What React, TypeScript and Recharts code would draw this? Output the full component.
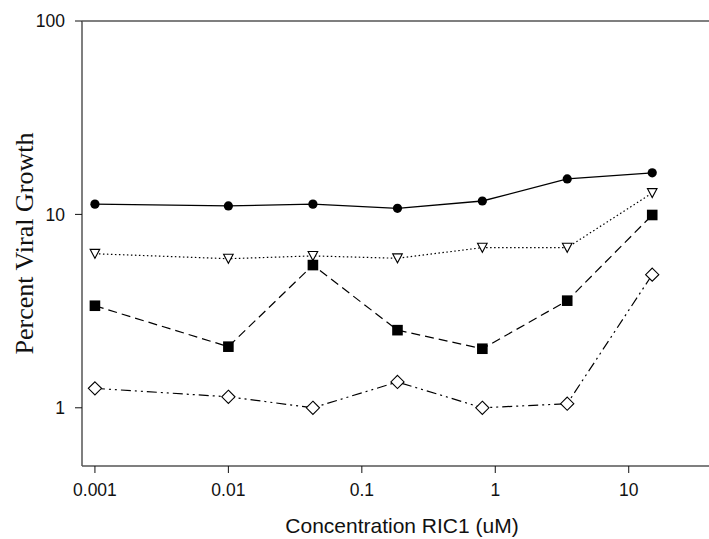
import React from 'react';
import { LineChart, Line, XAxis, YAxis, ReferenceLine } from 'recharts';

// concentration (uM) of each dilution step
const concentrations = [0.001, 0.01, 0.043, 0.185, 0.8, 3.46, 15];

// percent viral growth, one array per curve
const circleSeries = [11.3, 11.06, 11.3, 10.75, 11.73, 15.25, 16.4];
const triangleSeries = [6.26, 5.9, 6.1, 5.93, 6.73, 6.73, 12.9];
const squareSeries = [3.37, 2.07, 5.47, 2.52, 2.02, 3.58, 9.93];
const diamondSeries = [1.26, 1.14, 1.0, 1.36, 1.0, 1.05, 4.88];

const xTicks = [0.001, 0.01, 0.1, 1, 10];
const yTicks = [1, 10, 100];

const data = concentrations.map((conc, i) => ({
  conc,
  circle: circleSeries[i],
  triangle: triangleSeries[i],
  square: squareSeries[i],
  diamond: diamondSeries[i],
}));

type DotProps = { cx?: number; cy?: number; index?: number };

const renderCircle = ({ cx = 0, cy = 0, index }: DotProps) => (
  <circle key={`c-${index}`} cx={cx} cy={cy} r={4.6} fill="#000" />
);

const renderTriangle = ({ cx = 0, cy = 0, index }: DotProps) => (
  <path
    key={`t-${index}`}
    d={`M${cx - 4.8},${cy - 4.4} L${cx + 4.8},${cy - 4.4} L${cx},${cy + 4.6} Z`}
    fill="#fff"
    stroke="#000"
    strokeWidth={1.1}
  />
);

const renderSquare = ({ cx = 0, cy = 0, index }: DotProps) => (
  <rect key={`s-${index}`} x={cx - 5.3} y={cy - 5.3} width={10.6} height={10.6} fill="#000" />
);

const renderDiamond = ({ cx = 0, cy = 0, index }: DotProps) => (
  <path
    key={`d-${index}`}
    d={`M${cx},${cy - 6.6} L${cx + 6.6},${cy} L${cx},${cy + 6.6} L${cx - 6.6},${cy} Z`}
    fill="#fff"
    stroke="#000"
    strokeWidth={1.1}
  />
);

const tickFont = { fill: '#111', fontSize: 17.5, fontFamily: 'Liberation Sans, Arial, sans-serif' };
const axisLine = { stroke: '#555', strokeWidth: 1.5 };
const tickLine = { stroke: '#111', strokeWidth: 1 };

export default function App() {
  return (
    <div
      style={{
        position: 'fixed',
        left: 0,
        top: 0,
        width: 709,
        height: 539,
        overflow: 'hidden',
        background: '#fff',
      }}
    >
      <LineChart width={722} height={539} data={data} margin={{ top: 21, right: 0, bottom: 0, left: 0 }}>
        <XAxis
          dataKey="conc"
          type="number"
          scale="log"
          domain={[0.0008, 50]}
          ticks={xTicks}
          tickFormatter={(v: number) => String(v)}
          height={73}
          tick={tickFont}
          tickSize={7}
          tickMargin={11}
          axisLine={axisLine}
          tickLine={tickLine}
          label={{
            value: 'Concentration RIC1 (uM)',
            position: 'insideBottom',
            offset: 6,
            style: { fill: '#111', fontSize: 21, fontFamily: 'Liberation Sans, Arial, sans-serif' },
          }}
        />
        <YAxis
          type="number"
          scale="log"
          domain={[0.5, 100]}
          ticks={yTicks}
          width={82}
          tick={tickFont}
          tickSize={7}
          tickMargin={10}
          axisLine={axisLine}
          tickLine={tickLine}
          label={{
            value: 'Percent Viral Growth',
            angle: -90,
            position: 'insideLeft',
            offset: 24,
            style: {
              textAnchor: 'middle',
              fill: '#111',
              fontSize: 26,
              fontFamily: 'Liberation Serif, Times New Roman, serif',
            },
          }}
        />
        <ReferenceLine y={100} stroke="#555" strokeWidth={1.5} />
        <Line
          dataKey="circle"
          stroke="#000"
          strokeWidth={1.3}
          dot={renderCircle}
          activeDot={false}
          isAnimationActive={false}
        />
        <Line
          dataKey="triangle"
          stroke="#000"
          strokeWidth={1.2}
          strokeDasharray="1.5 2.5"
          dot={renderTriangle}
          activeDot={false}
          isAnimationActive={false}
        />
        <Line
          dataKey="square"
          stroke="#000"
          strokeWidth={1.2}
          strokeDasharray="9 5"
          dot={renderSquare}
          activeDot={false}
          isAnimationActive={false}
        />
        <Line
          dataKey="diamond"
          stroke="#000"
          strokeWidth={1.2}
          strokeDasharray="10 4 2 4 2 4"
          dot={renderDiamond}
          activeDot={false}
          isAnimationActive={false}
        />
      </LineChart>
    </div>
  );
}
